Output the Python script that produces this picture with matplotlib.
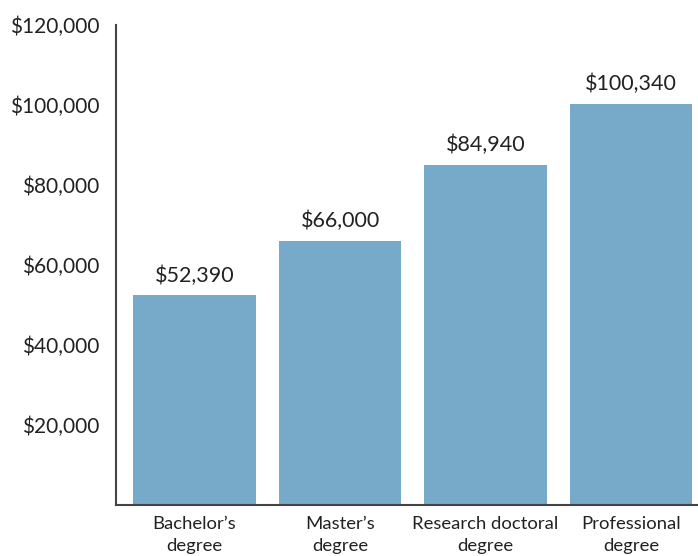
import matplotlib
matplotlib.use("Agg")
import matplotlib.pyplot as plt

categories = ["Bachelor\u2019s\ndegree", "Master\u2019s\ndegree", "Research doctoral\ndegree", "Professional\ndegree"]
salaries = [52390, 66000, 84940, 100340]
yticks = [20000, 40000, 60000, 80000, 100000, 120000]

plt.rcParams['font.family'] = ['Lato', 'DejaVu Sans']

fig = plt.figure(figsize=(6.98, 5.56), dpi=100)
ax = fig.add_axes([116 / 698, 1 - 505 / 556, 1 - 116 / 698, (505 - 25) / 556])

x = range(len(categories))
bars = ax.bar(x, salaries, width=0.84, color="#77A9C9")
for b, v in zip(bars, salaries):
    ax.annotate(f"${v:,}", (b.get_x() + b.get_width() / 2, v), xytext=(0, 7),
                textcoords="offset points", ha="center", va="bottom",
                fontsize=15.5, color="#222222")

ax.set_xlim(-0.54, 3.46)
ax.set_ylim(0, 120000)
ax.set_yticks(yticks)
ax.set_yticklabels([f"${t:,}" for t in yticks], fontsize=15, color="#222222")
ax.set_xticks(list(x))
ax.set_xticklabels(categories, fontsize=13.3, color="#222222", linespacing=1.45)
ax.tick_params(axis="both", length=0)
ax.tick_params(axis="y", pad=12)
ax.tick_params(axis="x", pad=8)
for s in ["top", "right"]:
    ax.spines[s].set_visible(False)
for s in ["left", "bottom"]:
    ax.spines[s].set_color("#444444")
    ax.spines[s].set_linewidth(1.5)

fig.savefig("out.png", dpi=100)
